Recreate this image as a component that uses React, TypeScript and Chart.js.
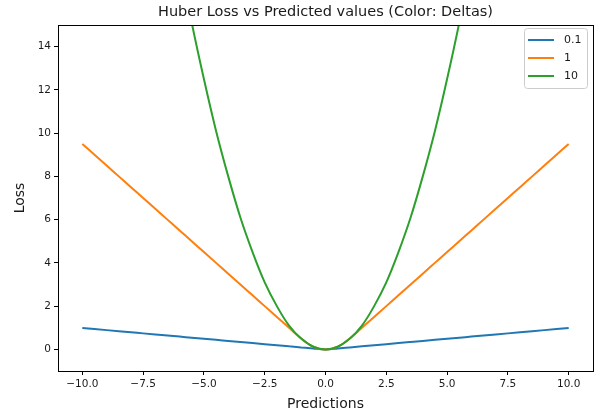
import React, { useEffect, useRef } from "react";
import { Chart, registerables } from "chart.js";

Chart.register(...registerables);

const title = "Huber Loss vs Predicted values (Color: Deltas)";
const xLabel = "Predictions";
const yLabel = "Loss";
const deltas = ["0.1", "1", "10"];
const colors = ["#1f77b4", "#ff7f0e", "#2ca02c"];

const predictions = [
  -10, -9.5, -9, -8.5, -8, -7.5, -7, -6.5, -6, -5.5, -5, -4.5, -4, -3.5, -3, -2.5, -2, -1.5, -1, -0.5,
  0, 0.5, 1, 1.5, 2, 2.5, 3, 3.5, 4, 4.5, 5, 5.5, 6, 6.5, 7, 7.5, 8, 8.5, 9, 9.5, 10,
];

const lossDelta01 = [
  0.99, 0.94, 0.89, 0.84, 0.79, 0.74, 0.69, 0.64, 0.59, 0.54, 0.49, 0.44, 0.39, 0.34, 0.29, 0.24, 0.19, 0.14, 0.09, 0.04,
  0, 0.04, 0.09, 0.14, 0.19, 0.24, 0.29, 0.34, 0.39, 0.44, 0.49, 0.54, 0.59, 0.64, 0.69, 0.74, 0.79, 0.84, 0.89, 0.94, 0.99,
];

const lossDelta1 = [
  9.5, 9, 8.5, 8, 7.5, 7, 6.5, 6, 5.5, 5, 4.5, 4, 3.5, 3, 2.5, 2, 1.5, 1, 0.5, 0.12,
  0, 0.12, 0.5, 1, 1.5, 2, 2.5, 3, 3.5, 4, 4.5, 5, 5.5, 6, 6.5, 7, 7.5, 8, 8.5, 9, 9.5,
];

const lossDelta10 = [
  50, 45.1, 40.5, 36.1, 32, 28.1, 24.5, 21.1, 18, 15.1, 12.5, 10.1, 8, 6.1, 4.5, 3.1, 2, 1.1, 0.5, 0.12,
  0, 0.12, 0.5, 1.1, 2, 3.1, 4.5, 6.1, 8, 10.1, 12.5, 15.1, 18, 21.1, 24.5, 28.1, 32, 36.1, 40.5, 45.1, 50,
];

const xTicks = [-10, -7.5, -5, -2.5, 0, 2.5, 5, 7.5, 10];
const yTicks = [0, 2, 4, 6, 8, 10, 12, 14];

const series = [lossDelta01, lossDelta1, lossDelta10];

const FONT = "'DejaVu Sans', sans-serif";
const TEXT = "#1a1a1a";

const fmtMinus = (s: string) => s.replace("-", "\u2212");

const framePlugin = {
  id: "frame",
  afterDatasetsDraw(chart: any) {
    const { ctx, chartArea } = chart;
    ctx.save();
    ctx.strokeStyle = "#000";
    ctx.lineWidth = 1;
    ctx.strokeRect(
      Math.round(chartArea.left) + 0.5,
      Math.round(chartArea.top) + 0.5,
      Math.round(chartArea.right - chartArea.left),
      Math.round(chartArea.bottom - chartArea.top)
    );
    ctx.restore();
  },
};

const legendPlugin = {
  id: "innerLegend",
  afterDraw(chart: any) {
    const { ctx } = chart;
    const x0 = 524.5, y0 = 28.5, w = 63, h = 60, r = 3;
    ctx.save();
    ctx.beginPath();
    ctx.moveTo(x0 + r, y0);
    ctx.lineTo(x0 + w - r, y0);
    ctx.quadraticCurveTo(x0 + w, y0, x0 + w, y0 + r);
    ctx.lineTo(x0 + w, y0 + h - r);
    ctx.quadraticCurveTo(x0 + w, y0 + h, x0 + w - r, y0 + h);
    ctx.lineTo(x0 + r, y0 + h);
    ctx.quadraticCurveTo(x0, y0 + h, x0, y0 + h - r);
    ctx.lineTo(x0, y0 + r);
    ctx.quadraticCurveTo(x0, y0, x0 + r, y0);
    ctx.closePath();
    ctx.fillStyle = "rgba(255,255,255,0.8)";
    ctx.fill();
    ctx.strokeStyle = "#cccccc";
    ctx.lineWidth = 1;
    ctx.stroke();
    const rows = [40, 58, 76];
    deltas.forEach((label, i) => {
      ctx.beginPath();
      ctx.strokeStyle = colors[i];
      ctx.lineWidth = 2;
      ctx.moveTo(528, rows[i]);
      ctx.lineTo(554, rows[i]);
      ctx.stroke();
      ctx.fillStyle = TEXT;
      ctx.font = `11px ${FONT}`;
      ctx.textBaseline = "middle";
      ctx.textAlign = "left";
      ctx.fillText(label, 564, rows[i]);
    });
    ctx.restore();
  },
};

export default function App() {
  const ref = useRef<HTMLCanvasElement>(null);

  useEffect(() => {
    if (!ref.current) return;
    const chart = new Chart(ref.current, {
      type: "line",
      data: {
        datasets: series.map((vals, i) => ({
          label: deltas[i],
          data: predictions.map((x, j) => ({ x, y: vals[j] })),
          borderColor: colors[i],
          backgroundColor: colors[i],
          borderWidth: 2,
          pointRadius: 0,
          fill: false,
          order: 3 - i,
          cubicInterpolationMode: "monotone" as const,
        })),
      },
      options: {
        responsive: false,
        animation: false,
        layout: { padding: { left: 0, right: 7, top: 0, bottom: 0 } },
        plugins: {
          legend: { display: false },
          tooltip: { enabled: false },
          title: {
            display: true,
            fullSize: false,
            text: title,
            color: TEXT,
            font: { family: FONT, size: 14.5, weight: "normal" },
            padding: { top: 4, bottom: 3.6 },
          },
        },
        scales: {
          x: {
            type: "linear",
            min: -11,
            max: 11,
            afterFit: (s: any) => {
              s.height = 42;
            },
            afterBuildTicks: (s: any) => {
              s.ticks = xTicks.map((v) => ({ value: v }));
            },
            ticks: {
              color: TEXT,
              font: { family: FONT, size: 10.5 },
              padding: 3,
              maxRotation: 0,
              autoSkip: false,
              callback: (v: any) => fmtMinus(Number(v).toFixed(1)),
            },
            grid: {
              display: true,
              drawOnChartArea: false,
              drawTicks: true,
              tickLength: 4,
              color: "#000",
            },
            border: { display: true, color: "#000" },
            title: {
              display: true,
              text: xLabel,
              color: TEXT,
              font: { family: FONT, size: 14 },
              padding: { top: 1.6, bottom: 0 },
            },
          },
          y: {
            type: "linear",
            min: -1,
            max: 15,
            afterFit: (s: any) => {
              s.width = 58;
            },
            afterBuildTicks: (s: any) => {
              s.ticks = yTicks.map((v) => ({ value: v }));
            },
            ticks: {
              color: TEXT,
              font: { family: FONT, size: 10.5 },
              padding: 3,
              autoSkip: false,
              callback: (v: any) => fmtMinus(String(v)),
            },
            grid: {
              display: true,
              drawOnChartArea: false,
              drawTicks: true,
              tickLength: 4,
              color: "#000",
            },
            border: { display: true, color: "#000" },
            title: {
              display: true,
              text: yLabel,
              color: TEXT,
              font: { family: FONT, size: 14 },
              padding: { top: 12, bottom: 0 },
            },
          },
        },
      },
      plugins: [framePlugin, legendPlugin],
    });
    return () => chart.destroy();
  }, []);

  return (
    <div style={{ position: "absolute", left: 0, top: 0, width: 600, height: 413, background: "#fff" }}>
      <canvas ref={ref} width={600} height={413} />
    </div>
  );
}
